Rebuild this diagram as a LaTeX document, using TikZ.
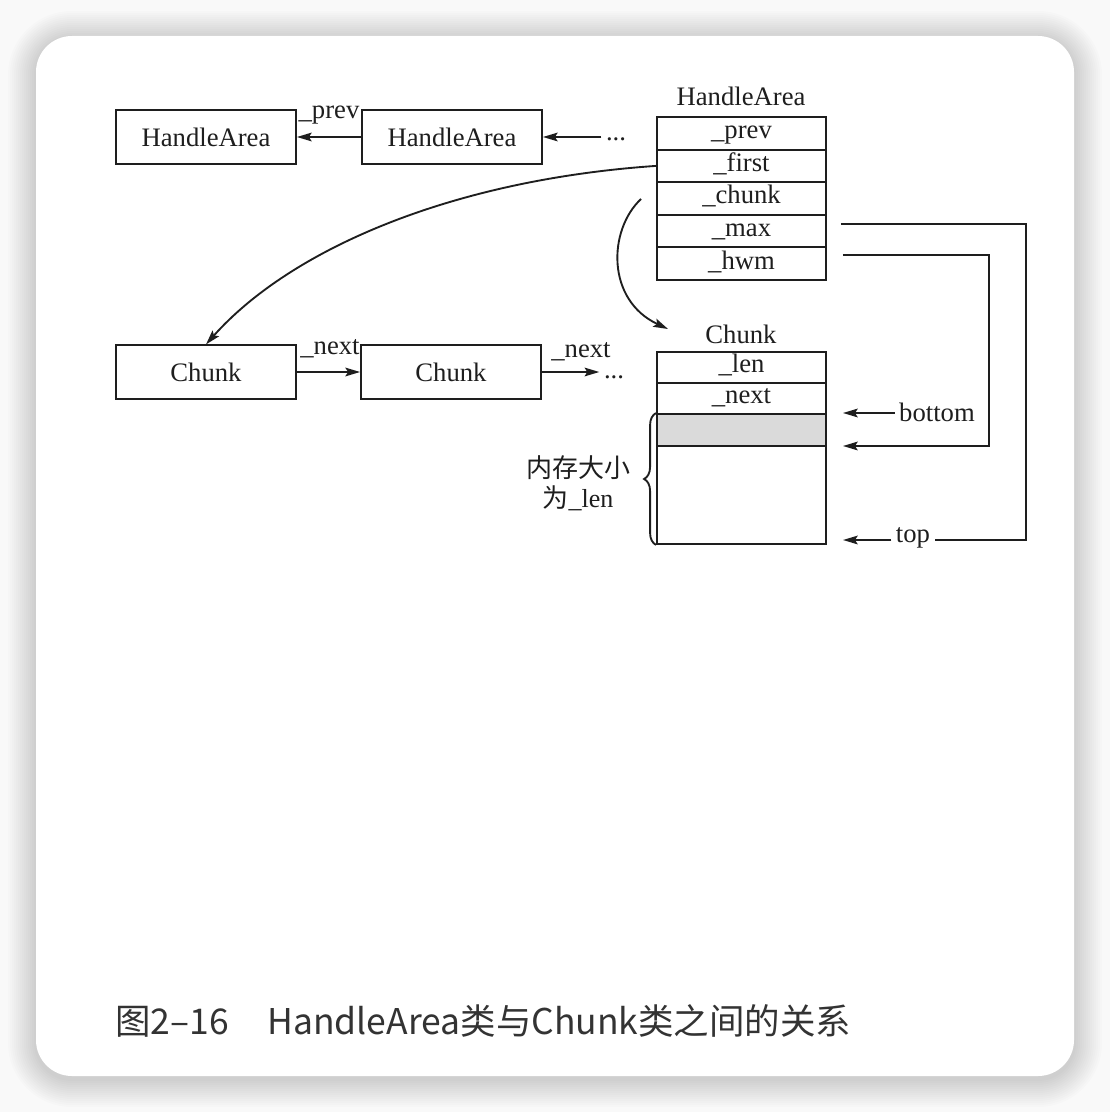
\documentclass[tikz,border=0pt]{standalone}
\usepackage{fontspec}
\setmainfont{Liberation Serif}
\newfontfamily\cjkfont{Noto Sans CJK SC}
\usetikzlibrary{arrows.meta,decorations.pathreplacing}

\definecolor{ink}{HTML}{1E1E1E}
\definecolor{memgray}{HTML}{DADADA}
\definecolor{captiongray}{HTML}{333333}
\definecolor{pagegray}{HTML}{F9F9F9}

\tikzset{
  txt/.style={text=ink, font=\fontsize{20}{24}\selectfont},
  box/.style={draw=ink, line width=1.4pt, minimum width=135pt, minimum height=40pt, inner sep=0pt},
  field/.style={draw=ink, line width=1.4pt, minimum width=126.75pt, inner sep=0pt,
    text height=1.02em, text depth=0.22em},
  wire/.style={draw=ink, line width=1.4pt},
  ptr/.style={wire, -{Stealth[length=11pt,width=6.5pt,inset=2pt]}},
}

\begin{document}
\begin{tikzpicture}[x=0.75pt, y=-0.75pt, every node/.style={txt}]

\useasboundingbox (0,0) rectangle (1110,1112);

% card and its shadow
\fill[pagegray] (0,0) rectangle (1110,1112);
\foreach \s in {1,...,14}
  \fill[black, opacity=0.011, rounded corners=27pt+1.5pt*\s]
    (36-2*\s,39-2*\s) rectangle (1074+2*\s,1079+2*\s);
\fill[white, rounded corners=27pt] (36,36) rectangle (1074,1076);

\coordinate (chunk-out) at (641,199);
\coordinate (chunk-in) at (668,329);
\coordinate (bottom-tip) at (843,413);
\coordinate (hwm-tip) at (843,446);
\coordinate (hwm-corner) at (989,446);
\coordinate (top-tip) at (843,540);
\coordinate (max-corner) at (1026,540);

% HandleArea list
\node[box] (ha-1) at (206,137) {HandleArea};
\node[box] (ha-2) at (452,137) {HandleArea};
\node[anchor=base] (ha-dots) at (616,141) {...};
\node[anchor=base] (prev-label) at (329,119) {\_prev};

% HandleArea fields
\node (ha-title) at (741,96) {HandleArea};
\node[field, minimum height=24.45pt] (ha-prev) at (741.5,133.3) {\_prev};
\node[field, minimum height=24.45pt] (ha-first) at (741.5,165.9) {\_first};
\node[field, minimum height=24.45pt] (ha-chunk) at (741.5,198.5) {\_chunk};
\node[field, minimum height=24.45pt] (ha-max) at (741.5,231.1) {\_max};
\node[field, minimum height=24.45pt] (ha-hwm) at (741.5,263.7) {\_hwm};

% Chunk list
\node[box] (chunk-1) at (206,372) {Chunk};
\node[box] (chunk-2) at (451,372) {Chunk};
\node[anchor=base] (chunk-dots) at (614,378) {...};
\node[anchor=base] (next-label-1) at (330,354) {\_next};
\node[anchor=base] (next-label-2) at (581,357) {\_next};

% Chunk fields
\node (chunk-title) at (741,334) {Chunk};
\node[field, minimum height=23.25pt] (chunk-len) at (741.5,367.5) {\_len};
\node[field, minimum height=23.25pt] (chunk-next) at (741.5,398.5) {\_next};
\node[field, fill=memgray, minimum height=24pt] (chunk-used) at (741.5,430) {};
\node[field, minimum height=73.5pt] (chunk-free) at (741.5,495) {};

\node (bottom-label) at (937,412) {bottom};
\node (top-label) at (913,538) {top};
\node[align=center, font=\fontsize{19.5}{22.5}\selectfont] (mem-label) at (578,483)
  {{\cjkfont 内存大小}\\{\cjkfont 为}\_len};

\draw[ptr] (ha-2) -- (ha-1);
\draw[ptr] (ha-dots.west |- ha-2.east) -- (ha-2.east);
\draw[ptr] (chunk-1) -- (chunk-2);
\draw[ptr] (chunk-2.east) -- (chunk-dots.west |- chunk-2.east);

\draw[ptr] (ha-first.west) .. controls (450,180) and (290,250) .. (chunk-1.north);
\draw[ptr] (chunk-out) .. controls (608,230) and (606,300) .. (chunk-in);

\draw[wire] ([xshift=10.5pt,yshift=5.25pt]ha-max.east) -| (max-corner) -- (top-label.east |- max-corner);
\draw[ptr] (top-label.west |- top-tip) -- (top-tip);
\draw[ptr] ([xshift=12pt,yshift=6.5pt]ha-hwm.east) -| (hwm-corner) -- (hwm-tip);
\draw[ptr] (bottom-label.west |- bottom-tip) -- (bottom-tip);

\draw[wire, decorate, decoration={brace, amplitude=9pt}]
  (chunk-free.south west) -- (chunk-used.north west);

\node[anchor=base west, inner sep=0pt, text=captiongray,
  font=\cjkfont\fontsize{26.6}{30}\selectfont] (caption) at (115,1034)
  {图2–16\hspace{29pt}HandleArea类与Chunk类之间的关系};

\end{tikzpicture}
\end{document}
